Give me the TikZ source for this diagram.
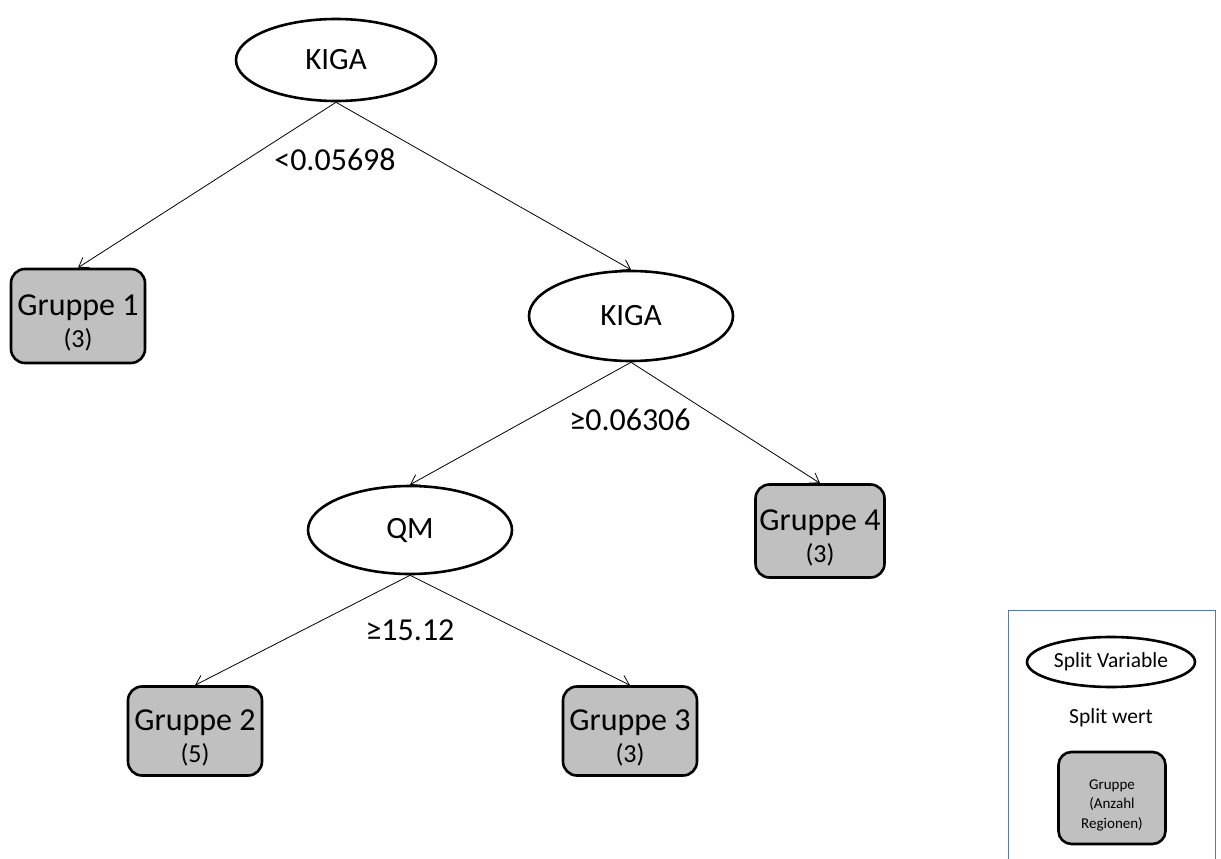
\documentclass[tikz,border=0pt]{standalone}
\usepackage{fontspec}
\setmainfont{Carlito}
\usetikzlibrary{shapes.geometric,arrows.meta}
\definecolor{boxgray}{RGB}{192,192,192}
\definecolor{legblue}{RGB}{90,120,170}
\newcommand{\cntline}[1]{{\fontsize{26}{28}\selectfont #1}}
\begin{document}
\begin{tikzpicture}[x=1pt,y=-1pt,
  splitnode/.style={ellipse,draw,line width=2.6pt,inner sep=0pt,minimum width=200pt,minimum height=82pt,font=\fontsize{31}{34}\selectfont},
  groupnode/.style={rectangle,rounded corners=14pt,draw,line width=2.6pt,fill=boxgray,inner sep=0pt,align=center,font=\fontsize{32}{35}\selectfont},
  conn/.style={line width=0.8pt,-{Straight Barb[length=9pt,width=12pt,line width=0.8pt]}},
  splitlabel/.style={font=\fontsize{32}{36}\selectfont,inner sep=0pt}
]
\useasboundingbox (0,0) rectangle (1221,859);
% tree nodes
\node[splitnode] (k1) at (336,60) {KIGA};
\node[groupnode,minimum width=134pt,minimum height=94pt] (g1) at (78,316) {\rule{0pt}{34pt}Gruppe 1\\[-3pt]\cntline{(3)}};
\node[splitnode,minimum width=204pt,minimum height=90pt] (k2) at (631,316) {KIGA};
\node[groupnode,minimum width=129pt,minimum height=93pt] (g4) at (820,531) {\rule{0pt}{34pt}Gruppe 4\\[-3pt]\cntline{(3)}};
\node[splitnode,minimum width=204pt,minimum height=88pt] (qm) at (410,530) {QM};
\node[groupnode,minimum width=134pt,minimum height=89pt] (g2) at (195,731) {\rule{0pt}{34pt}Gruppe 2\\[-3pt]\cntline{(5)}};
\node[groupnode,minimum width=134pt,minimum height=89pt] (g3) at (630,731) {\rule{0pt}{34pt}Gruppe 3\\[-3pt]\cntline{(3)}};
% connectors
\draw[conn] (k1.south) -- (g1.north);
\draw[conn] (k1.south) -- (k2.north);
\draw[conn] (k2.south) -- (qm.north);
\draw[conn] (k2.south) -- (g4.north);
\draw[conn] (qm.south) -- (g2.north);
\draw[conn] (qm.south) -- (g3.north);
% split labels
\node[splitlabel] (l1) at (335,160) {<0.05698};
\node[splitlabel] (l2) at (630,420) {≥0.06306};
\node[splitlabel] (l3) at (410,630) {≥15.12};
% legend
\coordinate (lbl) at (1008,859);
\coordinate (ltl) at (1008,610);
\coordinate (ltr) at (1215,610);
\coordinate (lbr) at (1215,859);
\draw[legblue,line width=1pt] (lbl) -- (ltl) -- (ltr) -- (lbr);
\node[splitnode,minimum width=168pt,minimum height=50pt,font=\fontsize{21.5}{24}\selectfont] (lv) at (1111,662) {Split Variable};
\node[font=\fontsize{21.5}{24}\selectfont,inner sep=0pt] (lw) at (1111,718) {Split wert};
\node[groupnode,minimum width=107pt,minimum height=92pt,font=\fontsize{15}{19.5}\selectfont,rounded corners=13pt] (lg) at (1112,798) {\rule{0pt}{24pt}Gruppe\\(Anzahl\\Regionen)};
\end{tikzpicture}
\end{document}
